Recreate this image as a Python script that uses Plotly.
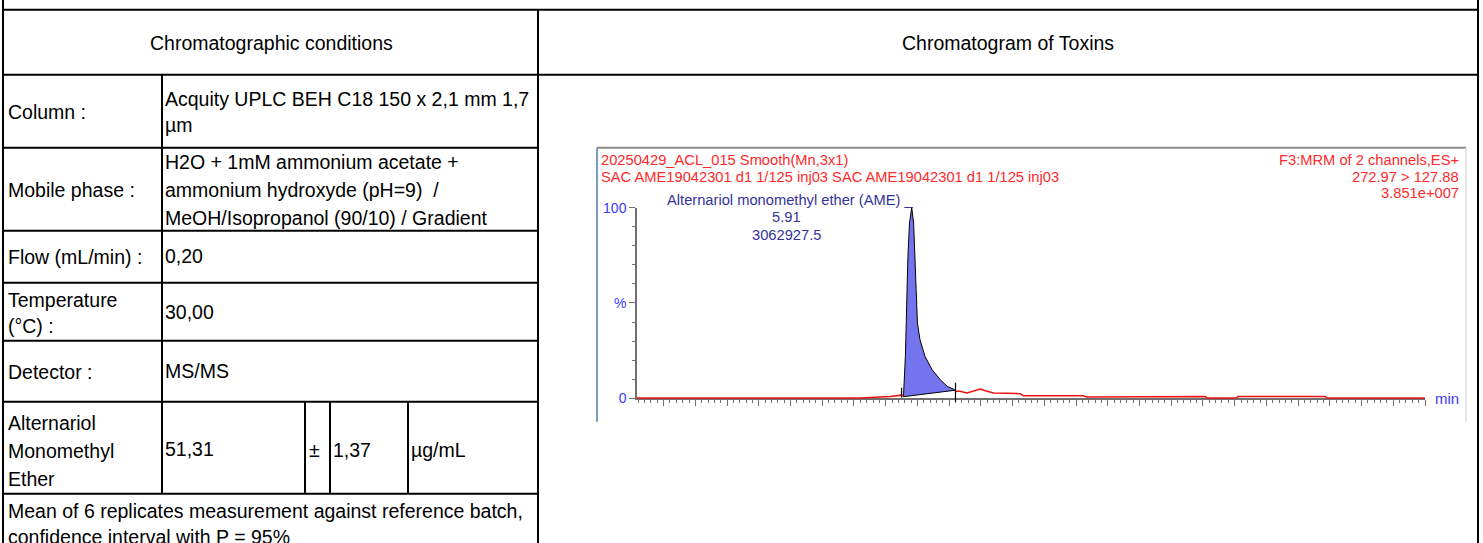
import plotly.graph_objects as go

W, H = 1483, 543

# ---------------- table content ----------------
header_left = "Chromatographic conditions"
header_right = "Chromatogram of Toxins"
row_labels = [["Column :"], ["Mobile phase :"], ["Flow (mL/min) :"], ["Temperature", "(°C) :"], ["Detector :"]]
row_values = [
    ["Acquity UPLC BEH C18 150 x 2,1 mm 1,7", "µm"],
    ["H2O + 1mM ammonium acetate +", "ammonium hydroxyde (pH=9)  /", "MeOH/Isopropanol (90/10) / Gradient"],
    ["0,20"],
    ["30,00"],
    ["MS/MS"],
]
analyte = ["Alternariol", "Monomethyl", "Ether"]
result_value = "51,31"
result_pm = "±"
result_unc = "1,37"
result_unit = "µg/mL"
footnote = ["Mean of 6 replicates measurement against reference batch,", "confidence interval with P = 95%"]

# ---------------- chromatogram content ----------------
header_red_left = ["20250429_ACL_015 Smooth(Mn,3x1)",
                   "SAC AME19042301 d1 1/125 inj03 SAC AME19042301 d1 1/125 inj03"]
header_red_right = ["F3:MRM of 2 channels,ES+", "272.97 > 127.88", "3.851e+007"]
peak_label = ["Alternariol monomethyl ether (AME) _", "5.91", "3062927.5"]
y_tickvals = [0, 50, 100]
y_ticktext = ["0", "%", "100"]

# time (min) / intensity (%)
pre_t = [1.58, 5.10, 5.57, 5.75, 5.78]
pre_i = [0.1, 0.1, 0.9, 1.6, 0.8]

peak_t = [5.78, 5.78, 5.79, 5.81, 5.82, 5.83, 5.85, 5.875, 5.91, 5.94, 5.955, 5.98, 6.00, 6.04, 6.12,
          6.23, 6.36, 6.47, 6.585, 6.60]
peak_i = [0.8, 2.9, 8.1, 21.9, 39.5, 57.0, 74.4, 92.0, 100.0, 92.0, 74.4, 57.0, 39.5, 30.7, 21.9,
          15.0, 9.7, 6.2, 4.5, 4.2]
base_t = [6.60, 5.78]
base_i = [4.2, 0.8]

tail_t = [6.60, 6.67, 6.78, 6.88, 6.99, 7.07, 7.20, 7.62, 7.67, 8.61, 8.67, 10.54, 10.56, 11.03, 11.05, 12.43, 12.45, 14.0]
tail_i = [3.6, 3.6, 2.7, 3.6, 4.8, 3.9, 2.7, 2.4, 1.3, 1.3, 0.6, 0.9, 0.1, 0.1, 0.9, 0.9, 0.1, 0.1]

start_mark_t = [5.75, 5.75]
start_mark_i = [0.3, 5.5]
end_mark_t = [6.60, 6.60]
end_mark_i = [-1.8, 8.1]

FONT = "Liberation Sans, Arial, sans-serif"
RED = "#ff2a2a"
BLUE = "#3a3aff"
NAVY = "#33339a"
GRAY = "#707070"

# the photographed page maps figure rows to screen rows as  screen = OFF + SC * fig
OFF, SC = 8.3, 527.0 / 543.0


def px(x):
    return x / W


def fig_y(y):
    return (y - OFF) / SC


def py(y):
    return 1 - fig_y(y) / H


fig = go.Figure()

# peak (filled integration area)
fig.add_trace(go.Scatter(x=peak_t + base_t, y=peak_i + base_i, mode="lines", fill="toself",
                         fillcolor="#7474ee", line=dict(color="black", width=1),
                         xaxis="x", yaxis="y", hoverinfo="skip", showlegend=False))
# red trace
for tt, ii in [(pre_t, pre_i), (tail_t, tail_i)]:
    fig.add_trace(go.Scatter(x=tt, y=ii, mode="lines", line=dict(color="#ee1111", width=1.5),
                             xaxis="x", yaxis="y2", hoverinfo="skip", showlegend=False))
# integration markers
for tt, ii in [(start_mark_t, start_mark_i), (end_mark_t, end_mark_i)]:
    fig.add_trace(go.Scatter(x=tt, y=ii, mode="lines", line=dict(color="black", width=1.2),
                             xaxis="x", yaxis="y2", hoverinfo="skip", showlegend=False))

y0_px, y100_px = 398.5, 208.0
ppu = (y0_px - y100_px) / 100.0
y2_bottom_px = y0_px + 6 * ppu

fig.update_layout(
    width=W, height=H, margin=dict(l=0, r=0, t=0, b=0),
    paper_bgcolor="white", plot_bgcolor="rgba(0,0,0,0)",
    font=dict(family=FONT, color="black"),
    xaxis=dict(domain=[px(637), px(1425)], range=[1.58, 14.0], anchor="y",
               showline=True, linecolor=GRAY, linewidth=1.5, layer="below traces",
               ticks="outside", tick0=0, dtick=0.5, ticklen=6, tickcolor=GRAY, tickwidth=1,
               minor=dict(dtick=0.1, ticklen=3, ticks="outside", tickcolor=GRAY, tickwidth=1),
               showticklabels=False, showgrid=False, zeroline=False, fixedrange=True),
    yaxis=dict(domain=[py(y0_px), py(y100_px)], range=[0, 100], anchor="x",
               showline=True, linecolor=GRAY, linewidth=1.5,
               ticks="outside", tickvals=y_tickvals, ticktext=y_ticktext, ticklen=6,
               tickcolor=GRAY, tickwidth=1,
               minor=dict(dtick=10, ticklen=3, ticks="outside", tickcolor=GRAY, tickwidth=1),
               tickfont=dict(color=BLUE, size=14, family=FONT),
               showgrid=False, zeroline=False, fixedrange=True),
    yaxis2=dict(domain=[py(y2_bottom_px), py(y100_px)], range=[-6, 100], anchor="x",
                visible=False, fixedrange=True),
)

shapes = []


def line(x0, y0, x1, y1, color="black", width=2):
    shapes.append(dict(type="line", xref="paper", yref="paper", x0=px(x0), y0=py(y0), x1=px(x1), y1=py(y1),
                       line=dict(color=color, width=width)))


# table grid
line(3, 0, 3, H + 10)
line(1478, 0, 1478, H + 10)
line(3, 10, 1478, 10)
line(3, 75, 1478, 75)
line(538, 10, 538, H + 10)
for yy in [148, 231, 283, 341, 402, 494]:
    line(3, yy, 538, yy)
line(162, 75, 162, 494)
for xx in [305, 330, 408]:
    line(xx, 402, xx, 494)

# chromatogram frame
line(597, 148, 1466, 148, "#8a8a8a", 2)
line(597, 148, 597, 422, "#7a9cc0", 2)
line(1466, 148, 1466, 422, "#dcdcdc", 1.5)

annotations = []


def text(x, y, s, size=19.5, color="black", xanchor="left"):
    annotations.append(dict(x=px(x), y=py(y), xref="paper", yref="paper", text=s, showarrow=False,
                            xanchor=xanchor, yanchor="middle", align=xanchor if xanchor != "center" else "center",
                            font=dict(size=size, color=color, family=FONT)))


text(271, 43, header_left, xanchor="center")
text(1008, 43, header_right, xanchor="center")

label_rows = [[112], [190], [257], [300, 326], [372]]
value_rows = [[99, 125], [162, 190, 218], [256], [312], [371]]
for labs, vals, ly, vy in zip(row_labels, row_values, label_rows, value_rows):
    for s, yy in zip(labs, ly):
        text(6, yy, s)
    for s, yy in zip(vals, vy):
        text(163, yy, s)
for s, yy in zip(analyte, [423, 451, 479]):
    text(6, yy, s)
text(163, 449, result_value)
text(307, 450, result_pm)
text(331, 450, result_unc)
text(409, 450, result_unit)
for s, yy in zip(footnote, [511, 537]):
    text(6, yy, s)

# chromatogram texts
for s, yy in zip(header_red_left, [160, 177]):
    text(599, yy, s, size=14.7, color=RED)
for s, yy in zip(header_red_right, [160, 177, 193]):
    text(1461, yy, s, size=14.7, color=RED, xanchor="right")
for s, yy, xx in zip(peak_label, [200, 217, 235], [790, 786, 786]):
    text(xx, yy, s, size=14.7, color=NAVY, xanchor="center")
text(1433, 399, "min", size=15, color=BLUE)

fig.update_layout(shapes=shapes, annotations=annotations)

pin_script = (
    "document.documentElement.style.margin='0';"
    "document.documentElement.style.overflow='hidden';"
    "document.body.style.margin='0';"
    "document.body.style.overflow='hidden';"
    "var gd=document.getElementById('{plot_id}');"
    "gd.style.position='fixed';gd.style.top='0px';gd.style.left='0px';"
)
fig.write_html("out.html", config={"displayModeBar": False}, post_script=pin_script)
